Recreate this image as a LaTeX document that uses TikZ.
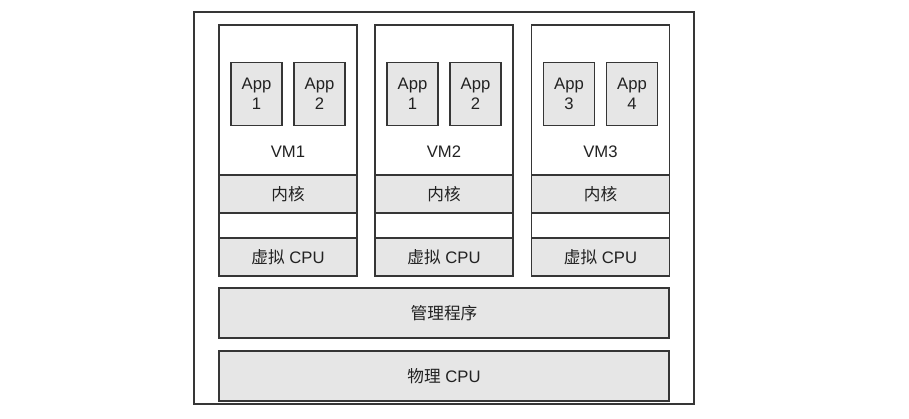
\documentclass[tikz,border=0pt]{standalone}
\usepackage{fontspec}
\setmainfont{Liberation Sans}
\newfontfamily\cjk{Noto Sans CJK SC}
\usepackage{tikz}
\usetikzlibrary{positioning}
\definecolor{linegray}{HTML}{363636}
\definecolor{boxgray}{HTML}{E6E6E6}
\definecolor{textgray}{HTML}{222222}

\begin{document}
\begin{tikzpicture}[x=0.75pt, y=-0.75pt,
    box/.style={draw=linegray, line width=0.8pt, fill=boxgray, inner sep=0pt, outer sep=0pt,
                text=textgray, font=\fontsize{12.5}{15}\selectfont, align=center},
    vmbody/.style={box, fill=white, minimum width=103.5pt, minimum height=112.5pt},
    kernel/.style={box, minimum width=103.5pt, minimum height=28.5pt},
    gapbox/.style={box, fill=white, minimum width=103.5pt, minimum height=18.75pt},
    app/.style={box, minimum width=38.25pt, minimum height=47.25pt},
    wide/.style={box, minimum width=337.5pt, minimum height=37.5pt},
    label/.style={text=textgray, font=\fontsize{12.5}{15}\selectfont}]
    \useasboundingbox (0,0) rectangle (909,418);
    % outer frame
    \draw[linegray, line width=0.8pt] (194,12) rectangle (694,404);
    % the three VMs
    \foreach \x/\n/\a/\b in {219/1/1/2, 375/2/1/2, 531.5/3/3/4}{
        \node[vmbody, anchor=north west] (vm\n) at (\x,25) {};
        \node[kernel, below=0pt of vm\n] (kern\n) {{\cjk 内核}};
        \node[gapbox, below=0pt of kern\n] (gap\n) {};
        \node[kernel, below=0pt of gap\n] (vcpu\n) {{\cjk 虚拟} CPU};
        \node[app, anchor=north west] (app\n a) at (\x+12,62.5) {App\\\a};
        \node[app, right=9pt of app\n a] (app\n b) {App\\\b};
        \node[label] (name\n) at (\x+69,152) {VM\n};
    }
    % hypervisor and hardware
    \node[wide, anchor=north west] (hyper) at (219,288) {{\cjk 管理程序}};
    \node[wide, below=9.75pt of hyper] (phys) {{\cjk 物理} CPU};
\end{tikzpicture}
\end{document}
